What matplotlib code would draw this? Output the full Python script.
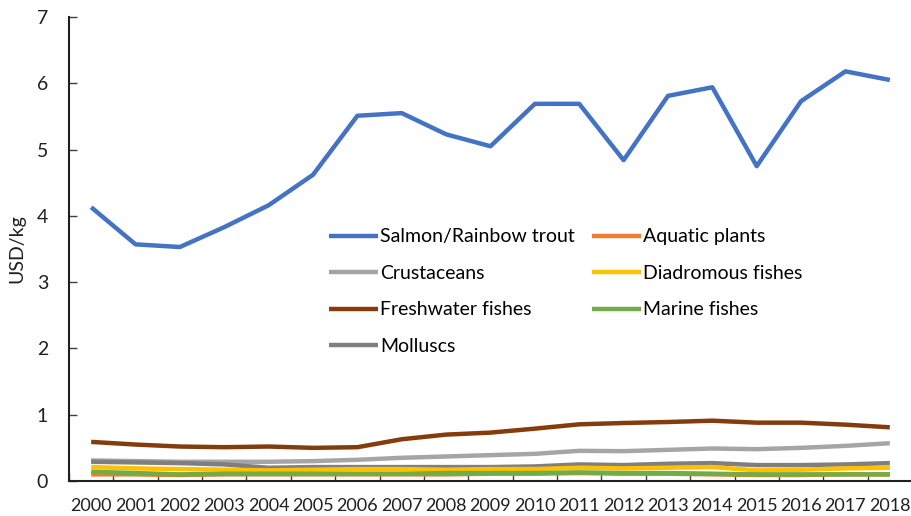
import matplotlib
matplotlib.use("Agg")
import matplotlib.pyplot as plt
import numpy as np

plt.rcParams['font.family'] = ['Lato', 'DejaVu Sans']

years = [str(y) for y in range(2000, 2019)]
salmon = [4.13, 3.57, 3.53, 3.83, 4.16, 4.62, 5.51, 5.55, 5.23, 5.05, 5.69, 5.69, 4.84, 5.81, 5.94, 4.75, 5.73, 6.18, 6.05]
aquatic = [0.10, 0.10, 0.09, 0.10, 0.10, 0.10, 0.10, 0.10, 0.10, 0.11, 0.11, 0.12, 0.11, 0.11, 0.10, 0.09, 0.09, 0.10, 0.10]
crustaceans = [0.31, 0.30, 0.29, 0.29, 0.29, 0.30, 0.32, 0.35, 0.37, 0.39, 0.41, 0.455, 0.45, 0.47, 0.49, 0.48, 0.50, 0.53, 0.57]
diadromous = [0.21, 0.19, 0.18, 0.17, 0.16, 0.17, 0.18, 0.18, 0.17, 0.18, 0.18, 0.20, 0.19, 0.20, 0.21, 0.16, 0.17, 0.19, 0.20]
freshwater = [0.59, 0.55, 0.52, 0.51, 0.52, 0.50, 0.51, 0.63, 0.70, 0.73, 0.79, 0.855, 0.875, 0.89, 0.91, 0.88, 0.88, 0.85, 0.81]
marine = [0.14, 0.12, 0.10, 0.11, 0.11, 0.11, 0.11, 0.11, 0.12, 0.12, 0.12, 0.13, 0.12, 0.12, 0.11, 0.10, 0.10, 0.10, 0.10]
molluscs = [0.29, 0.28, 0.27, 0.25, 0.20, 0.21, 0.21, 0.21, 0.21, 0.21, 0.22, 0.25, 0.24, 0.26, 0.27, 0.24, 0.24, 0.25, 0.27]

series = [
    ("Salmon/Rainbow trout", salmon, "#4472C4"),
    ("Aquatic plants", aquatic, "#ED7D31"),
    ("Crustaceans", crustaceans, "#A5A5A5"),
    ("Diadromous fishes", diadromous, "#FFC000"),
    ("Freshwater fishes", freshwater, "#843C0C"),
    ("Marine fishes", marine, "#70AD47"),
    ("Molluscs", molluscs, "#7F7F7F"),
]

fig = plt.figure(figsize=(9.12, 5.16), dpi=100)
ax = fig.add_axes([69/912, 1-481/516, 843/912, 464/516])
x = np.arange(len(years))
lines = {}
for i in [4, 2, 6, 3, 1, 5, 0]:
    name, vals, col = series[i]
    ln, = ax.plot(x, vals, color=col, lw=3.2, label=name, solid_capstyle='butt')
    lines[i] = ln

# column-major legend order to get rows: (0,1), (2,3), (4,5), (6)
order = [0, 2, 4, 6, 1, 3, 5]
handles = [lines[i] for i in order]
labels = [series[i][0] for i in order]
leg = ax.legend(handles, labels, ncol=2, loc='upper left', bbox_to_anchor=(0.288, 0.582),
                frameon=False, fontsize=14, handlelength=2.5, handletextpad=0.1,
                columnspacing=0.9, labelspacing=1.0)

ax.set_xlim(-0.5, len(years) - 0.5)
ax.set_ylim(0, 7)
ax.set_yticks(range(0, 8))
ax.set_xticks(x)
ax.set_xticklabels(years)
ax.set_xticks(np.arange(-0.5, len(years)), minor=True)
ax.tick_params(axis='x', which='major', length=0, pad=12, labelsize=13, labelcolor='#202020')
ax.tick_params(axis='x', which='minor', length=6, width=1, direction='in', color='#404040')
ax.tick_params(axis='y', length=6, width=1, direction='in', labelsize=14, pad=15,
               color='#404040', labelcolor='#202020')
ax.set_ylabel("USD/kg", fontsize=14, labelpad=8, color='#202020')
for s in ['top', 'right']:
    ax.spines[s].set_visible(False)
for s in ['left', 'bottom']:
    ax.spines[s].set_linewidth(1.5)
    ax.spines[s].set_color('#202020')

fig.savefig("out.png", dpi=100)
